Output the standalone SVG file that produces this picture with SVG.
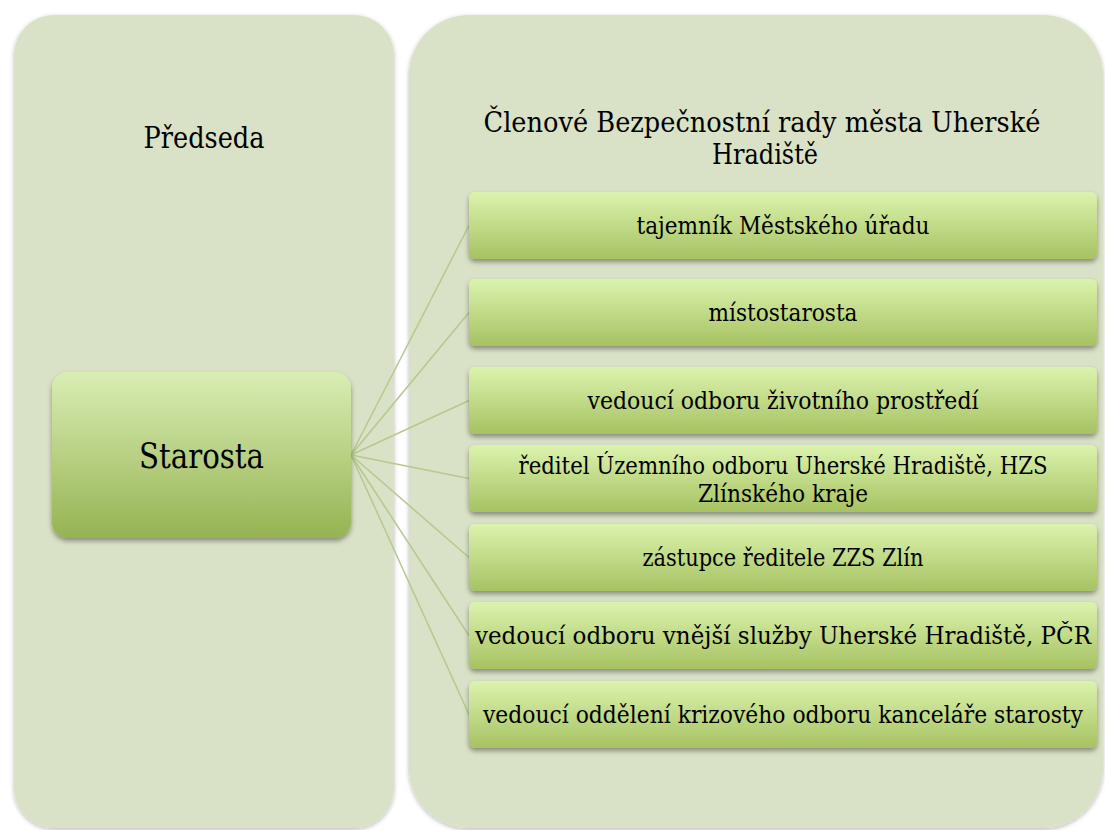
<svg xmlns="http://www.w3.org/2000/svg" width="1105" height="830" viewBox="0 0 1105 830">
<defs>
<linearGradient id="gItem" x1="0" y1="0" x2="0" y2="1">
<stop offset="0" stop-color="#dcf3ae"/>
<stop offset="1" stop-color="#a6c262"/>
</linearGradient>
<linearGradient id="gMain" x1="0" y1="0" x2="0" y2="1">
<stop offset="0" stop-color="#d9eeb4"/>
<stop offset="1" stop-color="#96b352"/>
</linearGradient>
<filter id="shPanel" x="-5%" y="-5%" width="110%" height="110%">
<feDropShadow dx="0" dy="1.5" stdDeviation="2" flood-color="#000" flood-opacity="0.28"/>
</filter>
<filter id="shBox" x="-5%" y="-20%" width="110%" height="150%">
<feDropShadow dx="0" dy="3" stdDeviation="2.5" flood-color="#000" flood-opacity="0.38"/>
</filter>
</defs>
<style>
.panel{fill:#d9e2c6;filter:url(#shPanel)}
.item{fill:url(#gItem);filter:url(#shBox)}
.main{fill:url(#gMain);filter:url(#shBox)}
.conn{stroke:#b5c98c;stroke-width:1.5;fill:none}
text{font-family:"DejaVu Serif Condensed","DejaVu Serif","Liberation Serif",serif;fill:#000;text-anchor:middle}
.t{font-size:25px}
.h{font-size:27px}
</style>
<rect width="1105" height="830" fill="#ffffff"/>
<g id="panel-predseda">
<rect class="panel" x="14" y="15" width="380" height="813" rx="40" ry="40"/>
<text x="204" y="148" style="font-size:29px" textLength="121" lengthAdjust="spacingAndGlyphs">Předseda</text>
</g>
<g id="panel-clenove">
<rect class="panel" x="409" y="15" width="694" height="813" rx="60" ry="60"/>
<text class="h" x="762" y="132" textLength="557" lengthAdjust="spacingAndGlyphs">Členové Bezpečnostní rady města Uherské</text>
<text class="h" x="765" y="164" textLength="106" lengthAdjust="spacingAndGlyphs">Hradiště</text>
</g>
<g id="connectors">
<line class="conn" x1="351" y1="455" x2="469" y2="225.5"/>
<line class="conn" x1="351" y1="455" x2="469" y2="312.5"/>
<line class="conn" x1="351" y1="455" x2="469" y2="400.5"/>
<line class="conn" x1="351" y1="455" x2="469" y2="478.5"/>
<line class="conn" x1="351" y1="455" x2="469" y2="557.5"/>
<line class="conn" x1="351" y1="455" x2="469" y2="635.5"/>
<line class="conn" x1="351" y1="455" x2="469" y2="714.5"/>
</g>
<g id="node-starosta">
<rect class="main" x="52" y="372" width="299" height="166" rx="16" ry="16"/>
<text x="201.5" y="468" style="font-size:36px" textLength="125" lengthAdjust="spacingAndGlyphs">Starosta</text>
</g>
<g id="node-1">
<rect class="item" x="469" y="192" width="628" height="67" rx="6" ry="6"/>
<text class="t" x="783" y="234" textLength="293" lengthAdjust="spacingAndGlyphs">tajemník Městského úřadu</text>
</g>
<g id="node-2">
<rect class="item" x="469" y="279" width="628" height="67" rx="6" ry="6"/>
<text class="t" x="783" y="321" textLength="149" lengthAdjust="spacingAndGlyphs">místostarosta</text>
</g>
<g id="node-3">
<rect class="item" x="469" y="367" width="628" height="67" rx="6" ry="6"/>
<text class="t" x="783" y="409" textLength="391" lengthAdjust="spacingAndGlyphs">vedoucí odboru životního prostředí</text>
</g>
<g id="node-4">
<rect class="item" x="469" y="445" width="628" height="67" rx="6" ry="6"/>
<text class="t" x="783" y="474" textLength="529" lengthAdjust="spacingAndGlyphs">ředitel Územního odboru Uherské Hradiště, HZS</text>
<text class="t" x="783" y="502" textLength="170" lengthAdjust="spacingAndGlyphs">Zlínského kraje</text>
</g>
<g id="node-5">
<rect class="item" x="469" y="524" width="628" height="67" rx="6" ry="6"/>
<text class="t" x="783" y="566" textLength="281" lengthAdjust="spacingAndGlyphs">zástupce ředitele ZZS Zlín</text>
</g>
<g id="node-6">
<rect class="item" x="469" y="602" width="628" height="67" rx="6" ry="6"/>
<text class="t" x="783" y="644" textLength="616" lengthAdjust="spacingAndGlyphs">vedoucí odboru vnější služby Uherské Hradiště, PČR</text>
</g>
<g id="node-7">
<rect class="item" x="469" y="681" width="628" height="67" rx="6" ry="6"/>
<text class="t" x="783" y="723" textLength="600" lengthAdjust="spacingAndGlyphs">vedoucí oddělení krizového odboru kanceláře starosty</text>
</g>
</svg>
